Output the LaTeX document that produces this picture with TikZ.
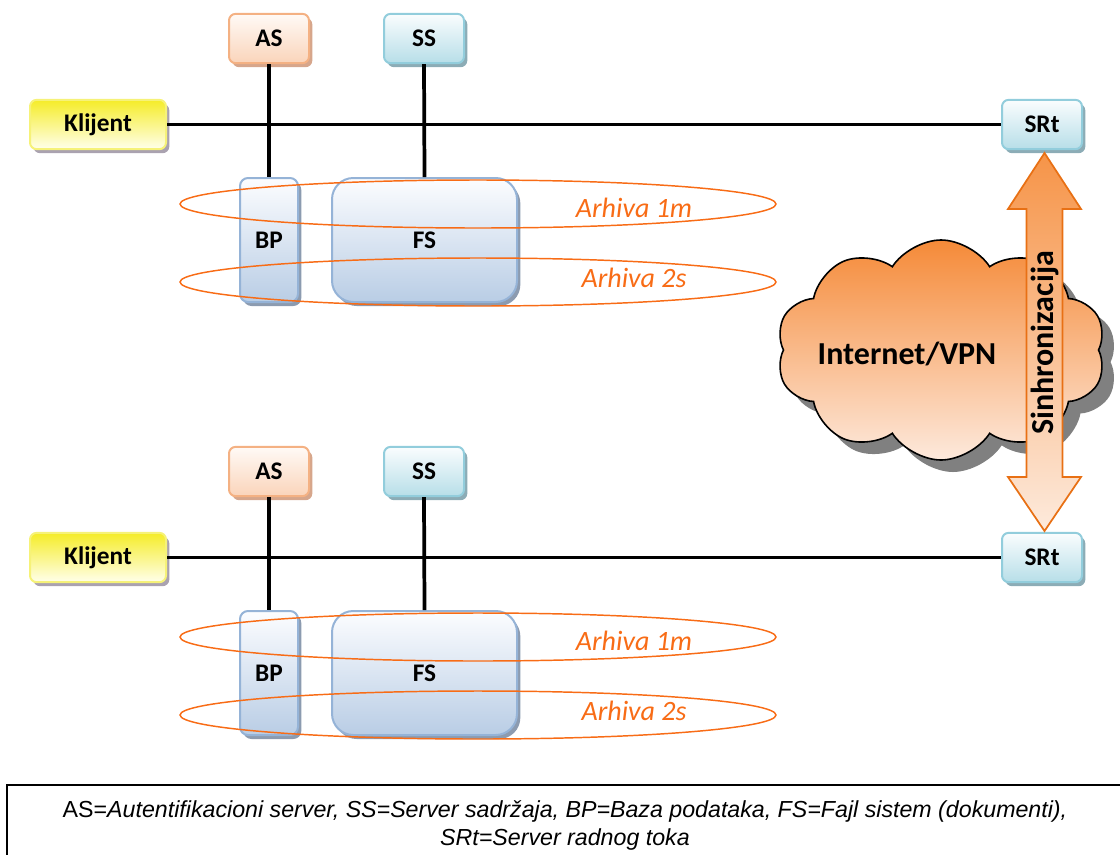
\documentclass[tikz,border=0pt]{standalone}
\usepackage{fontspec}
\setmainfont{Carlito}
\newfontfamily\legendfont{Liberation Sans}
\usetikzlibrary{shapes.symbols,shapes.geometric,shadows,calc}
\definecolor{klTop}{RGB}{245,236,40}
\definecolor{klBot}{RGB}{255,255,235}
\definecolor{klBorder}{RGB}{246,242,120}
\definecolor{klShadow}{RGB}{170,162,176}
\definecolor{asTop}{RGB}{255,250,246}
\definecolor{asBot}{RGB}{250,212,186}
\definecolor{asBorder}{RGB}{244,177,131}
\definecolor{asShadow}{RGB}{214,166,140}
\definecolor{ssTop}{RGB}{250,253,254}
\definecolor{ssBot}{RGB}{183,222,232}
\definecolor{ssBorder}{RGB}{146,205,220}
\definecolor{ssShadow}{RGB}{140,172,182}
\definecolor{dbTop}{RGB}{252,253,255}
\definecolor{dbBot}{RGB}{185,205,229}
\definecolor{dbBorder}{RGB}{149,179,215}
\definecolor{dbShadow}{RGB}{140,155,176}
\definecolor{arch}{RGB}{248,108,22}
\definecolor{cloudTop}{RGB}{245,138,56}
\definecolor{cloudBot}{RGB}{253,233,220}
\definecolor{arrTop}{RGB}{246,148,72}
\definecolor{arrBot}{RGB}{253,234,220}
\definecolor{arrBorder}{RGB}{232,112,20}
\begin{document}
\begin{tikzpicture}[x=0.75pt,y=-0.75pt,
  box/.style={rounded corners=5pt, line width=1.5pt, minimum width=60pt,
    minimum height=37pt, inner sep=0pt, font=\fontsize{19}{21}\selectfont\bfseries},
  klbox/.style={box, minimum width=102pt, draw=klBorder, top color=klTop, bottom color=klBot,
    drop shadow={shadow xshift=2.5pt, shadow yshift=-3pt, fill=klShadow, opacity=1}},
  asbox/.style={box, draw=asBorder, top color=asTop, bottom color=asBot,
    drop shadow={shadow xshift=2.5pt, shadow yshift=-3pt, fill=asShadow, opacity=1}},
  ssbox/.style={box, draw=ssBorder, top color=ssTop, bottom color=ssBot,
    drop shadow={shadow xshift=2.5pt, shadow yshift=-3pt, fill=ssShadow, opacity=1}},
  dbbox/.style={box, minimum height=93pt, draw=dbBorder, top color=dbTop, bottom color=dbBot,
    drop shadow={shadow xshift=2.5pt, shadow yshift=-3pt, fill=dbShadow, opacity=1}},
  wire/.style={line width=2.8pt, black},
  archring/.style={ellipse, draw=arch, line width=1.1pt, minimum width=447pt,
    minimum height=36pt, inner sep=0pt},
  archlabel/.style={text=arch, font=\fontsize{21}{25}\selectfont\itshape},
]
\useasboundingbox (0,0) rectangle (1120,854);

% ---------- upper site ----------
\node[klbox] (kl1) at (98,124.5) {Klijent};
\node[asbox] (as1) at (269,38.5) {AS};
\node[ssbox] (ss1) at (424,38.5) {SS};
\node[ssbox] (srt1) at (1042,124.5) {SRt};
\node[dbbox, minimum width=43.5pt, rounded corners=6pt] (bp1) at (269,240) {BP};
\node[dbbox, minimum width=138.75pt, rounded corners=16pt] (fs1) at (424.5,240) {FS};
\draw[wire] (kl1.east) -- (srt1.west);
\draw[wire] (as1.south) -- (bp1.north);
\draw[wire] (ss1.south) -- (fs1.north);
\node[archring] (r1a) at (478,204) {};
\node[archring] (r1b) at (478,282) {};
\node[archlabel] (l1a) at (634,208) {Arhiva 1m};
\node[archlabel] (l1b) at (634,278) {Arhiva 2s};

% ---------- lower site ----------
\node[klbox] (kl2) at (98,557.5) {Klijent};
\node[asbox] (as2) at (269,471.5) {AS};
\node[ssbox] (ss2) at (424,471.5) {SS};
\node[ssbox] (srt2) at (1042,557.5) {SRt};
\node[dbbox, minimum width=43.5pt, rounded corners=6pt] (bp2) at (269,673) {BP};
\node[dbbox, minimum width=138.75pt, rounded corners=16pt] (fs2) at (424.5,673) {FS};
\draw[wire] (kl2.east) -- (srt2.west);
\draw[wire] (as2.south) -- (bp2.north);
\draw[wire] (ss2.south) -- (fs2.north);
\node[archring] (r2a) at (478,637) {};
\node[archring] (r2b) at (478,715) {};
\node[archlabel] (l2a) at (634,641) {Arhiva 1m};
\node[archlabel] (l2b) at (634,711) {Arhiva 2s};

% ---------- cloud ----------
\node[cloud, cloud puffs=10, cloud puff arc=115, cloud ignores aspect,
  minimum width=247pt, minimum height=165pt, inner sep=0pt,
  draw=black, line width=1.2pt, top color=cloudTop, bottom color=cloudBot,
  drop shadow={shadow xshift=9pt, shadow yshift=-9pt, fill=black!50, opacity=1}] (net) at (941,350) {};
\node[font=\fontsize{24}{28}\selectfont\bfseries] (netlabel) at (907,354) {Internet/VPN};

% ---------- synchronisation arrow ----------
\path[draw=arrBorder, line width=1.3pt, line join=miter, top color=arrTop, bottom color=arrBot]
  (1044.5,153) -- (1081,209) -- (1062.5,209) -- (1062.5,477) -- (1081,477)
  -- (1044.5,531) -- (1008,477) -- (1026.5,477) -- (1026.5,209) -- (1008,209) -- cycle;
\node[rotate=90, font=\fontsize{24}{28}\selectfont\bfseries] (sync) at (1044.5,343) {Sinhronizacija};

% ---------- legend ----------
\draw[line width=1.6pt] (1125,785) -| (7,860);
\node[align=center, font=\legendfont\fontsize{17.4}{21}\selectfont] (legend) at (565,825)
  {AS=\textit{Autentifikacioni server, SS=Server sadržaja, BP=Baza podataka, FS=Fajl sistem (dokumenti),}\\
   \textit{SRt=Server radnog toka}};
\end{tikzpicture}
\end{document}
